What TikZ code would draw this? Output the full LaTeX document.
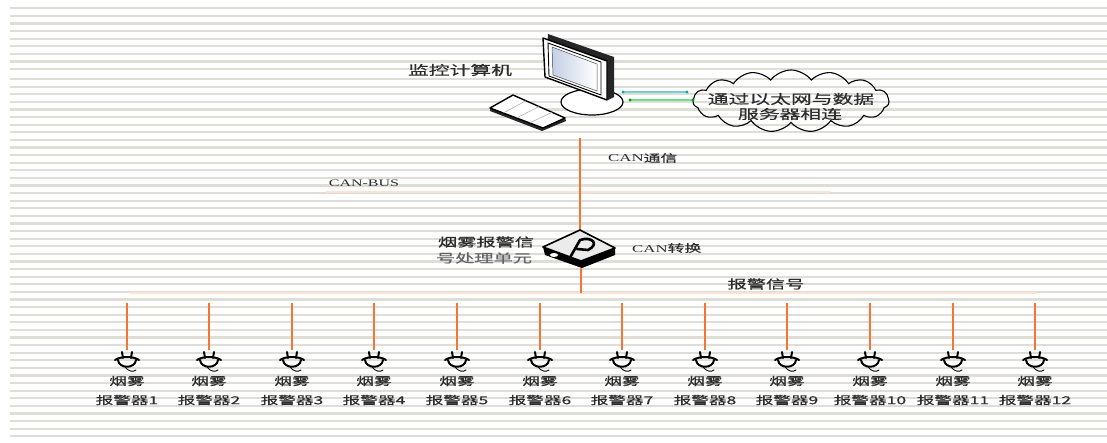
\documentclass[tikz,border=0pt]{standalone}
\usepackage{fontspec}
\setmainfont{Liberation Serif}[FakeStretch=1.6]
\newfontfamily\zh[FakeStretch=1.6, FakeBold=0.6]{Noto Sans CJK SC}
\usetikzlibrary{shapes.symbols,calc}

\definecolor{stripegray}{RGB}{222,222,215}
\definecolor{lineorange}{RGB}{244,118,50}
\definecolor{buspeach}{RGB}{252,226,208}
\definecolor{textgray}{RGB}{45,45,45}
\definecolor{lighttext}{RGB}{100,100,100}
\definecolor{linkcyan}{RGB}{120,205,205}
\definecolor{linkgreen}{RGB}{110,220,140}
\definecolor{screenblue}{RGB}{196,208,228}

\tikzset{
  stripe/.style={draw=stripegray, line width=2.2pt},
  txt/.style={inner sep=0pt, text=textgray, font=\zh},
  orangeline/.style={draw=lineorange, line width=2pt},
  busline/.style={draw=buspeach, line width=2.6pt},
  outline/.style={draw=black, line width=1.4pt, line join=round},
}

\begin{document}
\begin{tikzpicture}[x=1pt, y=-1pt]
\useasboundingbox (0,0) rectangle (1107,442);
\fill[white] (0,0) rectangle (1107,442);

% ruled background
\foreach \k in {0,...,56}{
  \pgfmathsetmacro\yy{8.3+7.6*\k+(\k>8)*2.4}
  \draw[stripe] (10,\yy) -- (1107,\yy);
}

% ---------- monitoring computer ----------
% stand
\draw[outline, fill=white, line width=1.2pt] (592,102) ellipse [x radius=31, y radius=13];
% monitor body (depth, frame, bezel, screen)
\fill[black!85] (548,34) -- (614,57) -- (614,97) -- (608,100) -- (545,77) -- cycle;
\draw[outline, fill=white] (543,38) -- (607,61) -- (607,100) -- (545,77) -- cycle;
\draw[black, line width=0.9pt] (548,43) -- (601,62) -- (601,95) -- (549,76) -- cycle;
\shade[left color=screenblue, right color=white] (552,47) -- (597,64) -- (597,91) -- (553,75) -- cycle;
\draw[black!70, line width=0.5pt] (552,47) -- (597,64) -- (597,91) -- (553,75) -- cycle;
% keyboard
\fill[black!85] (490,108) -- (490,111) -- (542,131) -- (566,121) -- (565,118) -- cycle;
\draw[outline, fill=white] (490,108) -- (513,95) -- (565,118) -- (543,128) -- cycle;
\foreach \t in {0.25,0.5,0.75}{
  \draw[black!35, line width=0.5pt] ($(490,108)!\t!(543,128)$) -- ($(513,95)!\t!(565,118)$);
}
\coordinate (pcbot) at (580,138);
\coordinate (pcA) at (623,92);
\coordinate (pcB) at (630,100);
\node[txt, font=\zh\fontsize{13}{15}\selectfont, anchor=center] (pclabel) at (460,70) {监控计算机};

% ---------- cloud ----------
\node[cloud, draw=black, line width=1.1pt, cloud puffs=15, cloud puff arc=105, aspect=3.2,
      minimum width=196pt, minimum height=62pt, inner sep=0pt] (cloudn) at (791,101) {};
\node[txt, font=\zh\fontsize{13}{15}\selectfont] (cloudl1) at (791,99) {通过以太网与数据};
\node[txt, font=\zh\fontsize{13}{15}\selectfont] (cloudl2) at (790,114) {服务器相连};
\coordinate (clA) at (687,92);
\coordinate (clB) at (693,100);
\draw[draw=linkcyan, line width=1.6pt] (pcA) -- (clA);
\draw[draw=linkgreen, line width=1.6pt] (pcB) -- (clB);
\fill[teal!70!cyan] (pcA) circle (1.6) (clA) circle (1.6);
\fill[green!60!black] (pcB) circle (1.6) (clB) circle (1.6);

% ---------- CAN bus ----------
\coordinate (canL) at (326,192);
\coordinate (canR) at (830,192);
\draw[busline] (canL) -- (canR);
\node[txt, font=\fontsize{10}{12}\selectfont, anchor=center] (canbus) at (364,183) {CAN-BUS};
\node[txt, font=\fontsize{10.5}{12}\selectfont, anchor=west] (cancomm) at (608,158) {CAN{\zh 通信}};

% ---------- alarm signal processing unit ----------
\coordinate (devtop) at (580,230);
\coordinate (devbot) at (581,268);
\draw[orangeline] (pcbot) -- (devtop);
% box sides
\fill[black] (543,247) -- (580,230) -- (615,248) -- (615,255) -- (582,268) -- (545,255) -- cycle;
% top face
\draw[fill=white!92!black, draw=black, line width=1.6pt, line join=round]
  (543,247) -- (580,230) -- (615,248) -- (581,261) -- cycle;
% emblem
\draw[black, line width=2.6pt, line cap=round, line join=round]
  (568,261) -- (580,240) .. controls (592,236) and (600,244) .. (588,250) -- (577,249);
\fill[white] (554,255) ellipse [x radius=4, y radius=2];
\node[txt, font=\zh\fontsize{12}{14}\selectfont] (devl1) at (486,242) {烟雾报警信};
\node[txt, text=lighttext, font=\zh\fontsize{12}{14}\selectfont] (devl2) at (484,258) {号处理单元};
\node[txt, font=\fontsize{10.5}{12}\selectfont, anchor=west] (canconv) at (632,248) {CAN{\zh 转换}};

% ---------- alarm signal bus ----------
\coordinate (busjoin) at (581,293);
\coordinate (busL) at (130,293);
\coordinate (busR) at (1037,293);
\draw[busline] (busL) -- (busR);
\draw[orangeline] (devbot) -- (busjoin);
\node[txt, font=\zh\fontsize{12}{14}\selectfont] (alarmsig) at (766,284) {报警信号};

% ---------- smoke detectors ----------
\foreach \i in {1,...,12}{
  \pgfmathtruncatemacro\xx{127+(\i-1)*82.6}
  \coordinate (drop\i) at (\xx,303);
  \coordinate (det\i) at (\xx,350);
  \draw[orangeline] (drop\i) -- (det\i);
  \begin{scope}[shift={(\xx,0)}, line width=2pt, line cap=round, line join=round]
    \draw (-5,352) -- (-4,358) (5,352) -- (4,358);
    \draw (-12,360) .. controls (-6,356) and (6,356) .. (12,360);
    \draw (-9,360) .. controls (-8,369) and (8,369) .. (9,360);
    \draw[line width=0.9pt] (-2,367) .. controls (2,372) and (6,372) .. (9,370);
  \end{scope}
  \node[txt, font=\zh\fontsize{11}{13}\selectfont] (smk\i) at (\xx,381) {烟雾};
  \node[txt, font=\zh\fontsize{11}{13}\selectfont] (lab\i) at (\xx,400) {报警器\i};
}
\end{tikzpicture}
\end{document}
